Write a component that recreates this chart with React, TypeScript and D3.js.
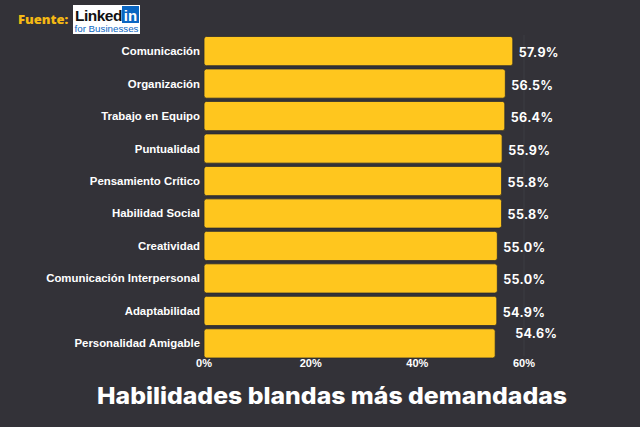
import React from "react";
import * as d3 from "d3";

const categories = [
  "Comunicación",
  "Organización",
  "Trabajo en Equipo",
  "Puntualidad",
  "Pensamiento Crítico",
  "Habilidad Social",
  "Creatividad",
  "Comunicación Interpersonal",
  "Adaptabilidad",
  "Personalidad Amigable",
];
const values = [57.9, 56.5, 56.4, 55.9, 55.8, 55.8, 55.0, 55.0, 54.9, 54.6];
const tickValues = [0, 20, 40, 60];
const title = "Habilidades blandas más demandadas";

const W = 640;
const H = 427;
const BG = "#333238";
const GOLD = "#FFC61E";

export default function App() {
  const x = d3.scaleLinear().domain([0, 60]).range([204, 524]);
  const y = d3
    .scaleBand<string>()
    .domain(categories)
    .range([35.5, 359])
    .paddingInner(0.1)
    .paddingOuter(0.03);
  const bw = y.bandwidth();
  const n = categories.length;

  return (
    <svg
      width={W}
      height={H}
      style={{ position: "absolute", left: 0, top: 0, display: "block" }}
    >
      <rect x={0} y={0} width={W} height={H} fill={BG} />
      <line x1={x(60)} x2={x(60)} y1={35} y2={356} stroke="#3d3c43" strokeWidth={1} />

      <text
        x={18}
        y={24}
        fill="#F5B914"
        fontFamily="'Open Sans', sans-serif"
        fontWeight={800}
        fontSize={13}
      >
        Fuente:
      </text>
      <g>
        <rect x={73} y={5} width={67} height={29} fill="#ffffff" />
        <text
          x={75}
          y={21}
          fill="#111"
          fontFamily="'Liberation Sans', Arial, sans-serif"
          fontWeight={700}
          fontSize={15.5}
          letterSpacing={-0.5}
        >
          Linked
        </text>
        <rect x={122} y={6} width={17} height={17} fill="#0A66C2" />
        <text
          x={130.5}
          y={20.5}
          textAnchor="middle"
          fill="#fff"
          fontFamily="'Liberation Sans', Arial, sans-serif"
          fontWeight={700}
          fontSize={15}
        >
          in
        </text>
        <text
          x={74.5}
          y={31.5}
          fill="#0A66C2"
          fontFamily="'Liberation Sans', Arial, sans-serif"
          fontSize={9.5}
          textLength={64}
          lengthAdjust="spacingAndGlyphs"
        >
          for Businesses
        </text>
      </g>

      {categories.map((c, i) => {
        const by = y(c)!;
        const v = values[i];
        const isLast = i === n - 1;
        return (
          <g key={c}>
            <rect
              x={x(0)}
              y={by}
              width={x(v) - x(0)}
              height={bw}
              rx={2.5}
              fill={GOLD}
              stroke="#2a292e"
              strokeWidth={0.8}
            />
            <text
              x={200}
              y={by + bw / 2 + 4}
              textAnchor="end"
              fill="#fff"
              fontFamily="'Liberation Sans', Arial, sans-serif"
              fontWeight={700}
              fontSize={11.4}
            >
              {c}
            </text>
            <text
              x={x(v) + (isLast ? 20 : 6)}
              y={by + bw / 2 + 6 - (isLast ? 11 : 0)}
              fill="#fff"
              fontFamily="Inter, 'Open Sans', sans-serif"
              fontWeight={700}
              fontSize={12.5}
              letterSpacing={0.3}
            >
              {v.toFixed(1)}%
            </text>
          </g>
        );
      })}

      {tickValues.map((t) => (
        <text
          key={t}
          x={x(t)}
          y={367}
          textAnchor="middle"
          fill="#fff"
          fontFamily="'Liberation Sans', Arial, sans-serif"
          fontWeight={700}
          fontSize={11}
        >
          {t}%
        </text>
      ))}

      <text
        x={332}
        y={404}
        textAnchor="middle"
        fill="#fff"
        fontFamily="Inter, 'Open Sans', sans-serif"
        fontWeight={800}
        fontSize={23}
        textLength={470}
        lengthAdjust="spacingAndGlyphs"
      >
        {title}
      </text>
    </svg>
  );
}
